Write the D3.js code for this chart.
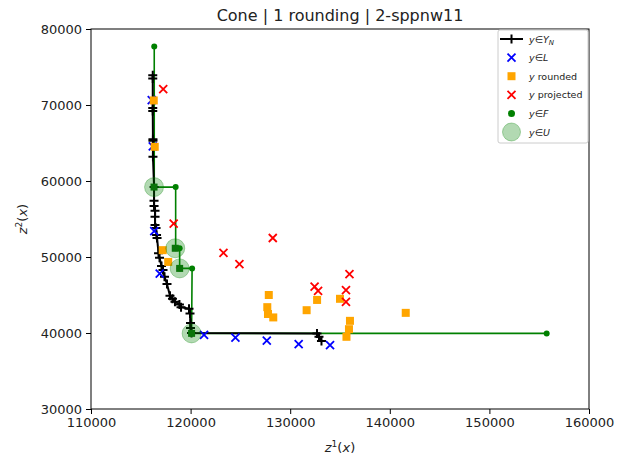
<!DOCTYPE html>
<html>
<head>
<meta charset="utf-8">
<script src="https://cdn.jsdelivr.net/npm/d3@7"></script>
<style>
  body { margin: 0; background: #fff; }
  svg { font-family: "DejaVu Sans", sans-serif; }
</style>
</head>
<body>
<svg id="chart" width="626" height="457"></svg>
<script>
// values: [z1, z2]
const frontierYN = [
  [116200, 73900], [116200, 73500], [116200, 69600], [116200, 69200],
  [116220, 65500], [116220, 65300], [116220, 63200], [116330, 59200],
  [116330, 57400], [116330, 56700], [116430, 56100], [116430, 55300],
  [116430, 54200], [116530, 53800], [116580, 52900], [116630, 52500],
  [116780, 50500], [116880, 49900], [117080, 48800], [117230, 48300],
  [117380, 47400], [117630, 46450], [117930, 44900], [118180, 44500],
  [118430, 44100], [118880, 43750], [119040, 43400], [119840, 43200],
  [119940, 42550], [119990, 41300], [119990, 40650], [120090, 40000],
  [132690, 39950], [132890, 39500], [133140, 38950]
];
const lowerL = [
  [116100, 70650], [116200, 64550], [116350, 53400], [116900, 47800],
  [121350, 39750], [124500, 39400], [127650, 39000], [130850, 38550],
  [134000, 38400]
];
const rounded = [
  [116300, 70600], [116400, 64500], [117200, 50900], [117750, 49350],
  [127850, 45000], [127700, 43400], [127770, 42500], [128300, 42050],
  [131650, 43000], [132700, 44350], [135000, 44500], [136000, 41600],
  [135900, 40500], [135650, 39500], [141600, 42650]
];
const projected = [
  [117250, 72100], [118300, 54400], [123300, 50550], [124900, 49050],
  [128250, 52500], [132450, 46100], [132800, 45550], [135950, 47750],
  [135600, 45650], [135600, 44100]
];
const feasibleF = [
  [116350, 77700], [116350, 59200], [118500, 59200], [118500, 51150],
  [118900, 51150], [118900, 48500], [120150, 48500], [120100, 39950],
  [155750, 39950]
];
const upperU = [
  [116330, 59200], [118460, 51150], [118900, 48500], [120100, 39950]
];
const xTicks = [110000, 120000, 130000, 140000, 150000, 160000];
const yTicks = [30000, 40000, 50000, 60000, 70000, 80000];

const svg = d3.select('#chart');
const margin = { left: 91, right: 589, top: 29, bottom: 409 };

const x = d3.scaleLinear().domain([110000, 160000]).range([margin.left, margin.right]);
const y = d3.scaleLinear().domain([30000, 80000]).range([margin.bottom, margin.top]);

const plusPath = 'M-4.5,0H4.5M0,-4.5V4.5';
const crossPath = 'M-4,-4L4,4M-4,4L4,-4';

const plot = svg.append('g');

// F line (green)
const line = d3.line().x(d => x(d[0])).y(d => y(d[1]));
plot.append('path')
  .datum(feasibleF)
  .attr('d', line)
  .attr('fill', 'none')
  .attr('stroke', 'green')
  .attr('stroke-width', 1.6);
plot.selectAll('.fdot')
  .data(feasibleF)
  .enter()
  .append('circle')
  .attr('cx', d => x(d[0]))
  .attr('cy', d => y(d[1]))
  .attr('r', 3)
  .attr('fill', 'green');

// Y_N line (black, + markers)
plot.append('path')
  .datum(frontierYN)
  .attr('d', line)
  .attr('fill', 'none')
  .attr('stroke', 'black')
  .attr('stroke-width', 2);
plot.selectAll('.yn')
  .data(frontierYN)
  .enter()
  .append('path')
  .attr('transform', d => `translate(${x(d[0])},${y(d[1])})`)
  .attr('d', plusPath)
  .attr('stroke', 'black')
  .attr('stroke-width', 2);

// L (blue x)
plot.selectAll('.l')
  .data(lowerL)
  .enter()
  .append('path')
  .attr('transform', d => `translate(${x(d[0])},${y(d[1])})`)
  .attr('d', crossPath)
  .attr('stroke', 'blue')
  .attr('stroke-width', 1.8);

// rounded (orange squares)
plot.selectAll('.r')
  .data(rounded)
  .enter()
  .append('rect')
  .attr('x', d => x(d[0]) - 4)
  .attr('y', d => y(d[1]) - 4)
  .attr('width', 8)
  .attr('height', 8)
  .attr('fill', 'orange');

// projected (red x)
plot.selectAll('.p')
  .data(projected)
  .enter()
  .append('path')
  .attr('transform', d => `translate(${x(d[0])},${y(d[1])})`)
  .attr('d', crossPath)
  .attr('stroke', 'red')
  .attr('stroke-width', 1.8);

// U (big light green circles) with dark square core
plot.selectAll('.uc')
  .data(upperU)
  .enter()
  .append('rect')
  .attr('x', d => x(d[0]) - 3.5)
  .attr('y', d => y(d[1]) - 3.5)
  .attr('width', 7)
  .attr('height', 7)
  .attr('fill', '#0f6f0f');
plot.selectAll('.u')
  .data(upperU)
  .enter()
  .append('circle')
  .attr('cx', d => x(d[0]))
  .attr('cy', d => y(d[1]))
  .attr('r', 9.5)
  .attr('fill', 'green')
  .attr('fill-opacity', 0.3)
  .attr('stroke', 'green')
  .attr('stroke-opacity', 0.3);

// frame
svg.append('rect')
  .attr('x', margin.left).attr('y', margin.top)
  .attr('width', margin.right - margin.left).attr('height', margin.bottom - margin.top)
  .attr('fill', 'none').attr('stroke', 'black').attr('stroke-width', 1);

// axes
const xAxis = d3.axisBottom(x).tickValues(xTicks).tickFormat(d3.format('d')).tickSize(5).tickPadding(4);
const yAxis = d3.axisLeft(y).tickValues(yTicks).tickFormat(d3.format('d')).tickSize(5).tickPadding(4);
const gx = svg.append('g').attr('transform', `translate(0,${margin.bottom})`).call(xAxis);
const gy = svg.append('g').attr('transform', `translate(${margin.left},0)`).call(yAxis);
[gx, gy].forEach(g => {
  g.select('.domain').remove();
  g.selectAll('text').attr('font-size', 13).attr('fill', '#222').attr('font-family', 'DejaVu Sans');
});

// title and axis labels
svg.append('text')
  .attr('x', (margin.left + margin.right) / 2).attr('y', 21)
  .attr('text-anchor', 'middle').attr('font-size', 16).attr('fill', '#222')
  .text('Cone | 1 rounding | 2-sppnw11');

const xl = svg.append('text')
  .attr('x', (margin.left + margin.right) / 2).attr('y', 452)
  .attr('text-anchor', 'middle').attr('font-size', 13).attr('fill', '#222');
xl.append('tspan').attr('font-style', 'italic').text('z');
xl.append('tspan').attr('font-size', 9).attr('dy', -5).text('1');
xl.append('tspan').attr('dy', 5).text('(');
xl.append('tspan').attr('font-style', 'italic').text('x');
xl.append('tspan').text(')');

const yl = svg.append('text')
  .attr('transform', `translate(27,${(margin.top + margin.bottom) / 2}) rotate(-90)`)
  .attr('text-anchor', 'middle').attr('font-size', 13).attr('fill', '#222');
yl.append('tspan').attr('font-style', 'italic').text('z');
yl.append('tspan').attr('font-size', 9).attr('dy', -5).text('2');
yl.append('tspan').attr('dy', 5).text('(');
yl.append('tspan').attr('font-style', 'italic').text('x');
yl.append('tspan').text(')');

// legend
const legendItems = ['yn', 'l', 'rounded', 'projected', 'f', 'u'];
const lg = svg.append('g');
lg.append('rect')
  .attr('x', 498).attr('y', 30).attr('width', 90).attr('height', 113)
  .attr('fill', 'white').attr('fill-opacity', 0.8)
  .attr('stroke', '#ccc').attr('rx', 2);
const rowY = d3.scalePoint().domain(legendItems).range([39, 132]);
const mx = 511.5, tx = 529;
lg.append('line').attr('x1', 500).attr('x2', 523)
  .attr('y1', rowY('yn')).attr('y2', rowY('yn'))
  .attr('stroke', 'black').attr('stroke-width', 2);
lg.append('path').attr('transform', `translate(${mx},${rowY('yn')})`)
  .attr('d', plusPath).attr('stroke', 'black').attr('stroke-width', 2);
lg.append('path').attr('transform', `translate(${mx},${rowY('l')})`)
  .attr('d', crossPath).attr('stroke', 'blue').attr('stroke-width', 1.8);
lg.append('rect').attr('x', mx - 4).attr('y', rowY('rounded') - 4)
  .attr('width', 8).attr('height', 8).attr('fill', 'orange');
lg.append('path').attr('transform', `translate(${mx},${rowY('projected')})`)
  .attr('d', crossPath).attr('stroke', 'red').attr('stroke-width', 1.8);
lg.append('circle').attr('cx', mx).attr('cy', rowY('f')).attr('r', 3.5).attr('fill', 'green');
lg.append('circle').attr('cx', mx).attr('cy', rowY('u')).attr('r', 9)
  .attr('fill', 'green').attr('fill-opacity', 0.3)
  .attr('stroke', 'green').attr('stroke-opacity', 0.3);

function legendText(key) {
  return lg.append('text').attr('x', tx).attr('y', rowY(key) + 3.5)
    .attr('font-size', 9.5).attr('fill', '#222');
}
let t = legendText('yn');
t.append('tspan').attr('font-style', 'italic').text('y');
t.append('tspan').text('∈');
t.append('tspan').attr('font-style', 'italic').text('Y');
t.append('tspan').attr('font-style', 'italic').attr('font-size', 7).attr('dy', 2).text('N');
t = legendText('l');
t.append('tspan').attr('font-style', 'italic').text('y');
t.append('tspan').text('∈');
t.append('tspan').attr('font-style', 'italic').text('L');
t = legendText('rounded');
t.append('tspan').attr('font-style', 'italic').text('y');
t.append('tspan').text(' rounded');
t = legendText('projected');
t.append('tspan').attr('font-style', 'italic').text('y');
t.append('tspan').text(' projected');
t = legendText('f');
t.append('tspan').attr('font-style', 'italic').text('y');
t.append('tspan').text('∈');
t.append('tspan').attr('font-style', 'italic').text('F');
t = legendText('u');
t.append('tspan').attr('font-style', 'italic').text('y');
t.append('tspan').text('∈');
t.append('tspan').attr('font-style', 'italic').text('U');
</script>
</body>
</html>
